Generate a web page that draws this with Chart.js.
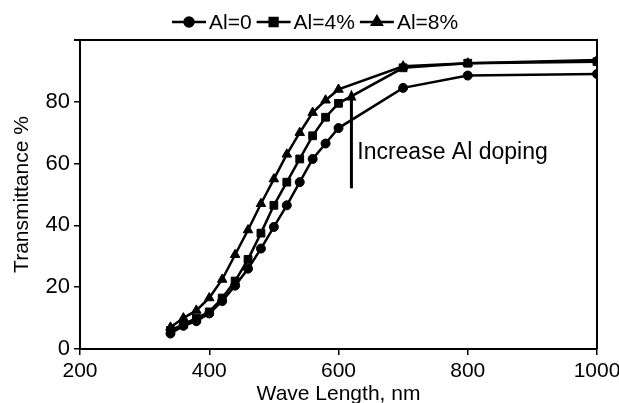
<!DOCTYPE html>
<html>
<head>
<meta charset="utf-8">
<script src="https://cdn.jsdelivr.net/npm/chart.js@4.4.0/dist/chart.umd.min.js"></script>
<style>
  html, body { margin: 0; padding: 0; background: #fff; }
  #wrap { width: 619px; height: 403px; }
</style>
</head>
<body>
<div id="wrap"><canvas id="grafico" width="619" height="403"></canvas></div>
<script>
const wavelengths = [340, 360, 380, 400, 420, 440, 460, 480, 500, 520, 540, 560, 580, 600, 700, 800, 1000];
const al0 = [5, 7.5, 9, 11.5, 15.5, 20.5, 26, 32.5, 39.5, 46.5, 54, 61.5, 66.5, 71.5, 84.5, 88.5, 89];
const al4 = [6, 8, 10, 12, 16.5, 22, 29, 37.5, 46.5, 54, 61.5, 69, 75, 79.5, 91, 92.5, 93];
const al8 = [7, 10, 12.5, 16.5, 22.5, 30.5, 38.5, 47, 55, 63, 70, 76.5, 80.5, 84, 91.5, 92.5, 93.5];
const seriesLabels = ['Al=0', 'Al=4%', 'Al=8%'];
const markers = ['circle', 'rect', 'triangle'];
const xTicks = [200, 400, 600, 800, 1000];
const yTicks = [0, 20, 40, 60, 80];

// arrow annotation (data units)
const arrowX = 620;
const arrowFrom = 52;
const arrowTo = 84;
const noteText = 'Increase Al doping';
const noteX = 629;
const noteY = 63.5;

const fuente = 'Arial, "Liberation Sans", sans-serif';

function puntos(valores) {
  return wavelengths.map((w, i) => ({ x: w, y: valores[i] }));
}

const radios = { circle: 4.5, rect: 5.5, triangle: 5.5 };

const datasets = [al0, al4, al8].map((vals, i) => ({
  label: seriesLabels[i],
  data: puntos(vals),
  borderColor: '#000',
  backgroundColor: '#000',
  borderWidth: 2.5,
  pointStyle: markers[i],
  pointRadius: radios[markers[i]],
  pointBorderWidth: 1,
  tension: 0,
  fill: false
}));

const marcoPlugin = {
  id: 'marco',
  afterDatasetsDraw(chart) {
    const { ctx, chartArea: a, scales } = chart;
    ctx.save();
    ctx.strokeStyle = '#000';
    ctx.lineWidth = 2;
    ctx.beginPath();
    ctx.moveTo(a.left - 6, a.top);
    ctx.lineTo(a.right, a.top);
    ctx.lineTo(a.right, a.bottom);
    ctx.stroke();

    // flecha
    const x = scales.x.getPixelForValue(arrowX);
    const y0 = scales.y.getPixelForValue(arrowFrom);
    const y1 = scales.y.getPixelForValue(arrowTo);
    ctx.lineWidth = 3;
    ctx.beginPath();
    ctx.moveTo(x, y0);
    ctx.lineTo(x, y1 + 8);
    ctx.stroke();
    ctx.beginPath();
    ctx.moveTo(x, y1);
    ctx.lineTo(x - 5, y1 + 11);
    ctx.lineTo(x + 5, y1 + 11);
    ctx.closePath();
    ctx.fillStyle = '#000';
    ctx.fill();

    ctx.font = '23px ' + fuente;
    ctx.textAlign = 'left';
    ctx.textBaseline = 'middle';
    ctx.fillText(noteText, scales.x.getPixelForValue(noteX), scales.y.getPixelForValue(noteY));

    // leyenda
    ctx.font = '21px ' + fuente;
    let lx = 172;
    const ly = 22;
    datasets.forEach(ds => {
      ctx.lineWidth = 2.5;
      ctx.beginPath();
      ctx.moveTo(lx, ly);
      ctx.lineTo(lx + 34, ly);
      ctx.stroke();
      Chart.helpers.drawPoint(ctx, { pointStyle: ds.pointStyle, radius: ds.pointRadius, rotation: 0, borderWidth: 1 }, lx + 17, ly);
      ctx.fill();
      lx += 37;
      ctx.fillText(ds.label, lx, ly + 1);
      lx += ctx.measureText(ds.label).width + 5;
    });
    ctx.restore();
  }
};

const ctx = document.getElementById('grafico').getContext('2d');
new Chart(ctx, {
  type: 'line',
  data: { datasets: datasets },
  plugins: [marcoPlugin],
  options: {
    responsive: false,
    animation: false,
    devicePixelRatio: 1,
    layout: { padding: { top: 40, right: 22, left: 0, bottom: 0 } },
    plugins: {
      legend: { display: false },
      tooltip: { enabled: false }
    },
    scales: {
      x: {
        type: 'linear',
        min: 200,
        max: 1000,
        afterBuildTicks: s => { s.ticks = xTicks.map(v => ({ value: v })); },
        afterFit: s => { s.height = 54; s.paddingLeft = 0; s.paddingRight = 0; },
        ticks: { color: '#000', font: { family: fuente, size: 21 }, padding: 4, maxRotation: 0, callback: v => String(v) },
        grid: { drawOnChartArea: false, drawTicks: true, tickLength: 6, color: '#000', lineWidth: 1.5 },
        border: { color: '#000', width: 2 },
        title: { display: true, text: 'Wave Length, nm', color: '#000', font: { family: fuente, size: 21 }, padding: { top: 0, bottom: -4 } }
      },
      y: {
        min: 0,
        max: 100,
        afterBuildTicks: s => { s.ticks = yTicks.map(v => ({ value: v })); },
        afterFit: s => { s.width = 80; s.paddingTop = 0; s.paddingBottom = 0; },
        ticks: { color: '#000', font: { family: fuente, size: 22 }, padding: 4, callback: v => String(v) },
        grid: { drawOnChartArea: false, drawTicks: true, tickLength: 6, color: '#000', lineWidth: 1.5 },
        border: { color: '#000', width: 2 },
        title: { display: true, text: 'Transmittance %', color: '#000', font: { family: fuente, size: 21 }, padding: { top: 10, bottom: 0 } }
      }
    }
  }
});
</script>
</body>
</html>
